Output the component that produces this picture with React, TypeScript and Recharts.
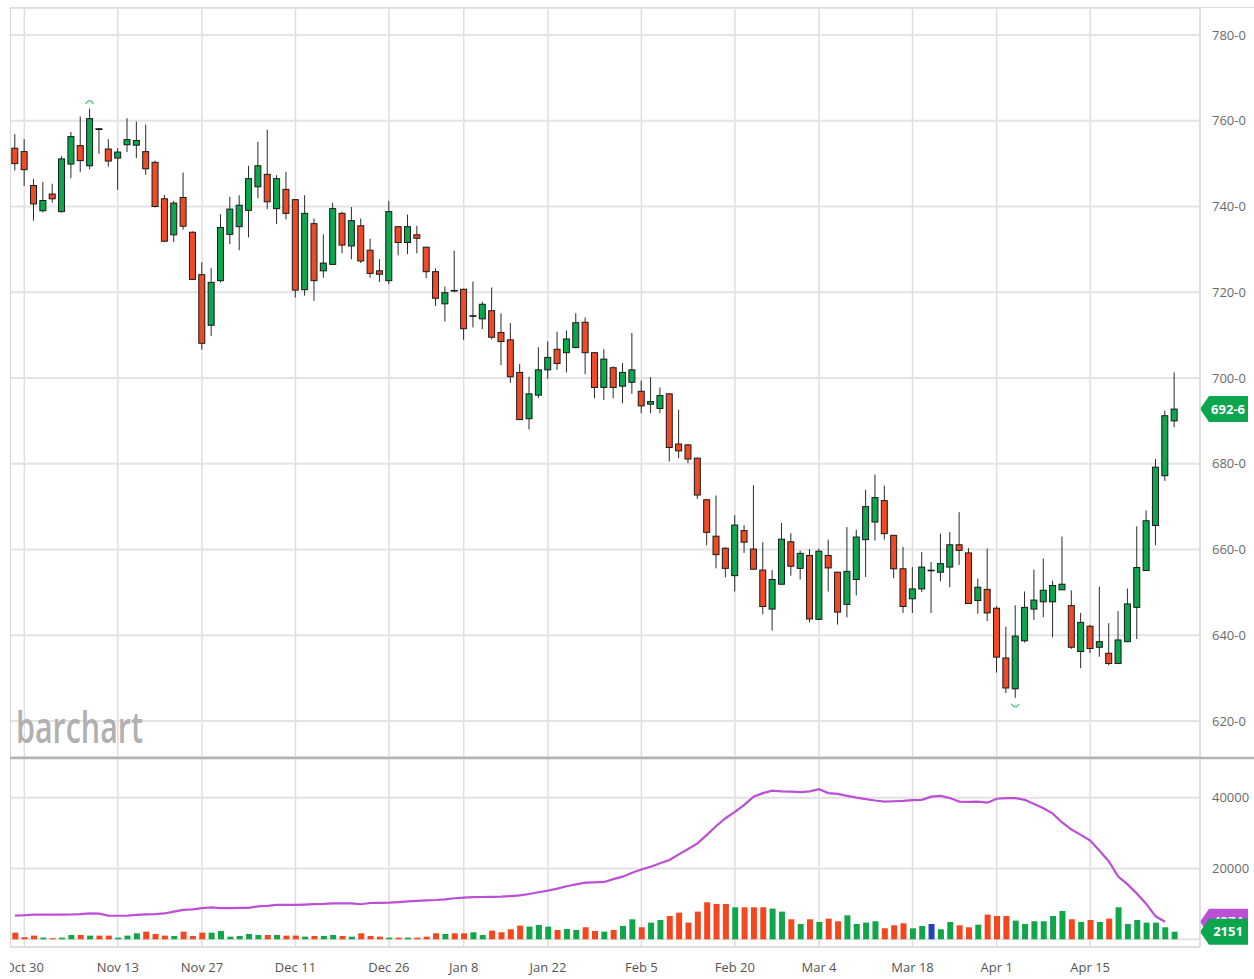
import React from "react"
import {
  ComposedChart,
  Bar,
  Line,
  XAxis,
  YAxis,
  CartesianGrid,
  ReferenceLine,
  Cell,
} from "recharts"

// trading days, Oct 27 2023 - Apr 26 2024
const months: [string, number[]][] = [
  ["Oct", [27, 30, 31]],
  ["Nov", [1, 2, 3, 6, 7, 8, 9, 10, 13, 14, 15, 16, 17, 20, 21, 22, 24, 27, 28, 29, 30]],
  ["Dec", [1, 4, 5, 6, 7, 8, 11, 12, 13, 14, 15, 18, 19, 20, 21, 22, 26, 27, 28, 29]],
  ["Jan", [2, 3, 4, 5, 8, 9, 10, 11, 12, 16, 17, 18, 19, 22, 23, 24, 25, 26, 29, 30, 31]],
  ["Feb", [1, 2, 5, 6, 7, 8, 9, 12, 13, 14, 15, 16, 20, 21, 22, 23, 26, 27, 28, 29]],
  ["Mar", [1, 4, 5, 6, 7, 8, 11, 12, 13, 14, 15, 18, 19, 20, 21, 22, 25, 26, 27, 28]],
  ["Apr", [1, 2, 3, 4, 5, 8, 9, 10, 11, 12, 15, 16, 17, 18, 19, 22, 23, 24, 25, 26]],
]
const dates = months.flatMap(([m, ds]) => ds.map((d) => `${m} ${d}`))

const tickDates = [
  "Oct 30", "Nov 13", "Nov 27", "Dec 11", "Dec 26", "Jan 8", "Jan 22",
  "Feb 5", "Feb 20", "Mar 4", "Mar 18", "Apr 1", "Apr 15",
]
const priceTicks = [620, 640, 660, 680, 700, 720, 740, 760, 780]
const volTicks = [0, 20000, 40000]

const opens = [
  753.6, 752.8, 744.9, 739.0, 742.9, 738.8, 749.9, 754.2, 749.5, 758.1,
  753.4, 751.3, 754.4, 754.3, 752.8, 750.3, 741.8, 733.4, 742.1, 734.0,
  724.1, 712.3, 722.7, 733.5, 735.3, 739.1, 744.6, 747.5, 739.5, 744.0,
  741.6, 720.6, 736.0, 725.0, 726.5, 738.4, 730.8, 735.5, 729.8, 725.0,
  722.7, 735.3, 731.6, 733.4, 730.5, 724.8, 717.3, 720.4, 720.7, 714.4,
  713.8, 715.7, 710.6, 708.9, 701.3, 690.5, 696.0, 701.9, 706.7, 705.9,
  707.1, 713.0, 705.9, 697.8, 702.4, 698.1, 699.0, 696.9, 693.9, 692.9,
  696.3, 684.6, 684.4, 681.3, 671.6, 663.1, 660.3, 653.9, 664.4, 660.1,
  655.2, 646.1, 651.9, 661.8, 655.6, 658.6, 643.7, 658.6, 654.7, 647.2,
  653.0, 662.3, 666.4, 671.4, 663.3, 655.5, 648.5, 650.8, 655.1, 654.7,
  655.9, 661.1, 659.2, 648.1, 650.7, 646.3, 634.7, 627.5, 638.7, 646.1,
  647.8, 647.8, 650.6, 646.9, 636.2, 642.1, 637.2, 635.8, 633.4, 638.5,
  646.5, 655.1, 665.6, 677.2, 690.0,
]
const highs = [
  756.9, 755.7, 746.4, 745.7, 745.3, 751.7, 757.4, 761.0, 762.8, 758.3,
  755.7, 753.6, 760.6, 759.8, 759.1, 750.7, 742.7, 741.3, 747.9, 734.2,
  727.0, 725.6, 738.2, 742.3, 742.6, 749.5, 755.1, 757.9, 747.3, 748.1,
  741.7, 742.6, 737.2, 733.5, 740.9, 738.8, 739.9, 737.2, 732.5, 727.7,
  741.3, 735.4, 738.1, 735.5, 730.6, 725.6, 721.3, 729.7, 720.8, 722.5,
  717.8, 721.1, 715.1, 712.8, 703.3, 700.3, 707.2, 708.5, 710.8, 711.1,
  715.1, 714.1, 706.0, 706.7, 702.7, 703.5, 710.5, 699.4, 700.2, 697.8,
  696.4, 692.6, 684.6, 681.4, 671.8, 672.6, 660.5, 668.0, 665.7, 675.0,
  661.7, 655.2, 666.2, 663.8, 659.7, 660.1, 660.2, 662.3, 654.8, 665.2,
  664.6, 673.9, 677.5, 674.9, 663.4, 660.6, 655.9, 659.4, 657.1, 663.7,
  664.1, 668.7, 660.3, 653.2, 660.2, 646.8, 642.0, 647.0, 650.2, 655.3,
  657.9, 652.7, 663.0, 650.5, 645.2, 642.4, 651.3, 642.8, 645.6, 650.9,
  665.4, 669.1, 681.1, 692.4, 701.3,
]
const lows = [
  748.4, 744.8, 736.7, 738.6, 740.9, 738.6, 746.6, 748.0, 748.7, 752.3,
  749.3, 743.9, 752.7, 751.3, 747.4, 739.8, 731.7, 731.7, 734.6, 722.9,
  706.6, 709.8, 722.3, 731.2, 729.8, 732.8, 741.9, 739.4, 735.9, 737.0,
  718.8, 719.2, 718.0, 723.4, 726.4, 729.1, 727.7, 726.8, 723.4, 722.4,
  721.9, 728.6, 728.9, 729.1, 723.3, 716.8, 713.2, 720.0, 708.9, 711.8,
  711.4, 709.0, 703.0, 698.9, 690.2, 688.0, 695.3, 699.8, 701.9, 701.3,
  706.9, 700.9, 695.3, 694.9, 695.3, 694.1, 696.3, 691.8, 691.8, 691.8,
  680.5, 681.3, 680.1, 671.8, 661.0, 655.6, 653.5, 650.2, 659.2, 655.3,
  644.9, 641.1, 651.7, 653.9, 653.0, 643.0, 643.5, 650.2, 642.5, 644.2,
  649.3, 653.6, 662.1, 662.3, 653.3, 645.2, 645.2, 650.1, 645.2, 652.6,
  651.2, 656.4, 647.3, 645.0, 643.3, 631.3, 626.5, 625.4, 638.3, 643.6,
  644.2, 639.5, 650.5, 636.8, 632.3, 635.8, 635.0, 633.0, 633.3, 638.4,
  639.1, 655.0, 661.0, 676.0, 688.5,
]
const closes = [
  750.0, 748.6, 740.6, 741.4, 741.8, 751.1, 756.3, 750.7, 760.5, 758.0,
  750.6, 752.7, 755.6, 755.4, 748.8, 740.0, 731.9, 740.8, 735.4, 723.0,
  708.1, 722.3, 735.1, 739.4, 740.3, 746.5, 749.5, 741.1, 746.5, 738.4,
  720.5, 738.4, 722.7, 726.8, 739.5, 731.0, 736.7, 727.3, 724.4, 724.2,
  738.8, 731.6, 735.3, 732.6, 724.8, 718.6, 719.9, 720.3, 711.5, 714.5,
  717.2, 709.5, 708.5, 700.3, 690.3, 696.3, 701.9, 704.8, 703.4, 709.1,
  712.9, 705.9, 697.8, 704.4, 697.8, 701.3, 701.9, 693.5, 694.5, 695.9,
  683.8, 683.0, 681.1, 672.7, 664.0, 658.8, 655.6, 665.7, 661.7, 655.4,
  646.7, 653.0, 662.4, 656.1, 659.1, 643.8, 659.6, 655.7, 645.4, 654.9,
  662.9, 670.0, 672.1, 663.7, 655.5, 646.7, 650.8, 655.9, 655.1, 656.7,
  661.1, 659.8, 647.4, 651.2, 645.2, 634.9, 627.7, 639.8, 646.5, 648.2,
  650.5, 651.6, 651.9, 637.2, 643.0, 636.9, 638.5, 633.4, 638.9, 647.3,
  655.8, 666.7, 679.2, 691.2, 692.75,
]
const volumes = [
  1880, 600, 1040, 470, 300, 470, 1220, 1220, 1040, 1040,
  1040, 470, 1040, 1700, 2170, 1510, 1040, 940, 2170, 940,
  1880, 1880, 2360, 750, 940, 1510, 1220, 1220, 1220, 1040,
  1040, 750, 940, 940, 1220, 940, 750, 1700, 940, 750,
  470, 470, 470, 470, 750, 1700, 1510, 1700, 1700, 1980,
  1220, 2450, 1980, 2830, 3860, 3580, 4050, 3580, 2640, 2920,
  2640, 3390, 2360, 2170, 2640, 3770, 5650, 3390, 4710, 5460,
  6590, 7540, 4710, 7820, 10460, 9990, 9990, 9040, 9040, 9040,
  9040, 8670, 7820, 5650, 4330, 5650, 4900, 5840, 5090, 6780,
  4330, 4710, 5090, 3110, 3960, 4520, 3110, 3770, 4330, 2830,
  4900, 3960, 3390, 4140, 6970, 6590, 6590, 5280, 4330, 5090,
  5090, 6590, 8010, 5650, 4900, 5460, 4900, 5840, 9040, 4330,
  5460, 4710, 4710, 3390, 2151,
]
const openInterest: (number | null)[] = [
  6700, 6800, 6950, 6950, 6950, 6950, 7000, 7100, 7300, 7250,
  6700, 6650, 6700, 6900, 7050, 7100, 7300, 7800, 8300, 8450,
  8800, 9000, 8800, 8800, 8850, 8900, 9300, 9450, 9700, 9700,
  9700, 9800, 9950, 10000, 10150, 10150, 10150, 9900, 10250, 10300,
  10350, 10500, 10700, 10850, 11000, 11100, 11300, 11600, 11800, 11900,
  11950, 12000, 12050, 12200, 12400, 12800, 13300, 13750, 14300, 15000,
  15500, 16000, 16100, 16200, 17000, 17700, 18800, 19700, 20500, 21500,
  22400, 24000, 25500, 27100, 29500, 32000, 34200, 36000, 38000, 40300,
  41300, 42000, 41800, 41700, 41600, 41800, 42400, 41300, 41100, 40500,
  40000, 39600, 39200, 38900, 39000, 39100, 39300, 39400, 40300, 40500,
  39900, 38900, 38800, 38900, 38600, 39700, 39900, 39900, 39400, 38200,
  37000, 35500, 33000, 31000, 29500, 27900, 25000, 22000, 17700, 15500,
  12900, 10000, 6500, 4974, null,
]

const GREEN = "#0ba64e"
const RED = "#ef4a26"
const VOL_GREEN = "#12a64b"
const VOL_RED = "#f4461f"
const VOL_FLAT = "#2146b6"
const OI_COLOR = "#bb4fd6"
const FONT = "'Open Sans', sans-serif"

const rows = dates.map((date, i) => ({
  date,
  o: opens[i],
  h: highs[i],
  l: lows[i],
  c: closes[i],
  range: [lows[i], highs[i]],
  vol: volumes[i],
  oi: openInterest[i],
}))

const highDate = dates[highs.indexOf(Math.max(...highs))]
const lowDate = dates[lows.indexOf(Math.min(...lows))]
const lastClose = closes[closes.length - 1]
const lastVol = volumes[volumes.length - 1]
const lastOi = openInterest[openInterest.length - 2] as number

const fmtPrice = (v: number) => {
  const w = Math.floor(v)
  return `${w}-${Math.round((v - w) * 8)}`
}

function Candle(props: any) {
  const { x, y, width, height, payload } = props
  if (!payload || height == null) return null
  const { o, h, l, c } = payload
  const k = height / (h - l)
  const cx = x + width / 2
  const top = y + (h - Math.max(o, c)) * k
  const bot = y + (h - Math.min(o, c)) * k
  const flat = Math.abs(c - o) < 0.25
  return (
    <g>
      <line x1={cx} x2={cx} y1={y} y2={y + height} stroke="#2a2a2a" strokeWidth={1} />
      {flat ? (
        <line x1={x} x2={x + width} y1={(top + bot) / 2} y2={(top + bot) / 2} stroke="#111" strokeWidth={1.6} />
      ) : (
        <rect
          x={x + 0.5}
          y={top}
          width={width - 1}
          height={Math.max(bot - top, 1)}
          fill={c > o ? GREEN : RED}
          stroke="#1a1a1a"
          strokeWidth={1}
        />
      )}
      {payload.date === highDate && (
        <path d={`M${cx - 4},${y - 5} Q${cx},${y - 11} ${cx + 4},${y - 5}`} fill="none" stroke="#55cf88" strokeWidth={1.5} />
      )}
      {payload.date === lowDate && (
        <path d={`M${cx - 4},${y + height + 6} Q${cx},${y + height + 12} ${cx + 4},${y + height + 6}`} fill="none" stroke="#55cf88" strokeWidth={1.5} />
      )}
    </g>
  )
}

function Tag({ viewBox, text, color }: any) {
  if (!viewBox) return null
  const x0 = viewBox.x + viewBox.width
  const yy = viewBox.y
  return (
    <g>
      <path
        d={`M${x0},${yy} L${x0 + 9},${yy - 13} L${x0 + 48},${yy - 13} L${x0 + 48},${yy + 13} L${x0 + 9},${yy + 13} Z`}
        fill={color}
      />
      <text x={x0 + 28} y={yy} dy="0.36em" textAnchor="middle" fill="#fff" fontWeight={700} fontSize={13} fontFamily={FONT}>
        {text}
      </text>
    </g>
  )
}

export default function App() {
  return (
    <div style={{ position: "relative", width: 1254, height: 979, fontFamily: FONT, background: "#fff" }}>
      <style>{"body{margin:0;background:#fff}"}</style>
      <div style={{ position: "absolute", left: 10, top: 0, width: 1244, height: 979, overflow: "hidden" }}>
        <div style={{ position: "absolute", left: 0, top: 0 }}>
          <ComposedChart width={1244} height={760} data={rows} margin={{ top: 8, right: 0, bottom: 3, left: 0.3 }}>
            <CartesianGrid horizontal={false} stroke="#dedede" strokeWidth={1.5} />
            <CartesianGrid vertical={false} stroke="#e3e3e3" strokeWidth={2} />
            <XAxis dataKey="date" hide ticks={tickDates} interval={0} padding={{ left: 0, right: 21 }} />
            <YAxis
              orientation="right"
              width={54}
              domain={[611.6, 786.3]}
              allowDataOverflow
              ticks={priceTicks}
              tickFormatter={fmtPrice}
              tickLine={false}
              tickMargin={6}
              axisLine={{ stroke: "#dddddd", strokeWidth: 1.5 }}
              tick={{ fill: "#6a6a6a", fontSize: 13, fontFamily: FONT }}
            />
            <Bar dataKey="range" barSize={7} shape={<Candle />} isAnimationActive={false} />
            <ReferenceLine y={lastClose} stroke="none" label={<Tag text={fmtPrice(lastClose)} color={GREEN} />} />
          </ComposedChart>
        </div>
        <div style={{ position: "absolute", left: 0, top: 757 }}>
          <ComposedChart width={1244} height={222} data={rows} margin={{ top: 1, right: 0, bottom: 0, left: 0.3 }}>
            <CartesianGrid horizontal={false} stroke="#dedede" strokeWidth={1.5} />
            <CartesianGrid vertical={false} stroke="#e3e3e3" strokeWidth={2} />
            <XAxis
              dataKey="date"
              ticks={tickDates}
              interval={0}
              padding={{ left: 0, right: 21 }}
              height={32}
              tickLine={false}
              tickSize={0}
              tickMargin={16}
              axisLine={{ stroke: "#dedede", strokeWidth: 2 }}
              tick={{ fill: "#555", fontSize: 13, fontFamily: FONT }}
            />
            <YAxis
              orientation="right"
              width={54}
              domain={[-2175, 51215]}
              allowDataOverflow
              ticks={volTicks}
              tickFormatter={(v: number) => (v === 0 ? "" : String(v))}
              tickLine={false}
              tickMargin={6}
              axisLine={{ stroke: "#dddddd", strokeWidth: 1.5 }}
              tick={{ fill: "#6a6a6a", fontSize: 13, fontFamily: FONT }}
            />
            <Bar dataKey="vol" barSize={6} isAnimationActive={false}>
              {rows.map((r) => (
                <Cell key={r.date} fill={r.c > r.o ? VOL_GREEN : r.c < r.o ? VOL_RED : VOL_FLAT} />
              ))}
            </Bar>
            <Line dataKey="oi" stroke={OI_COLOR} strokeWidth={2.2} dot={false} isAnimationActive={false} />
            <ReferenceLine y={lastOi} stroke="none" label={<Tag text={String(lastOi)} color={OI_COLOR} />} />
            <ReferenceLine y={lastVol} stroke="none" label={<Tag text={String(lastVol)} color={GREEN} />} />
          </ComposedChart>
        </div>
      </div>
      <svg width={1254} height={979} style={{ position: "absolute", left: 0, top: 0, pointerEvents: "none" }}>
        <line x1={10} x2={1254} y1={7.5} y2={7.5} stroke="#e0e0e0" strokeWidth={1} />
        <line x1={10.5} x2={10.5} y1={7} y2={947} stroke="#d8d8d8" strokeWidth={1} />
        <line x1={10} x2={1254} y1={758} y2={758} stroke="#b4b4b4" strokeWidth={2.5} />
        <text x={16} y={743} fontSize={44} fontWeight={600} fontFamily={FONT} fill="#b0b0b0" textLength={127} lengthAdjust="spacingAndGlyphs">
          barchart
        </text>
      </svg>
    </div>
  )
}
